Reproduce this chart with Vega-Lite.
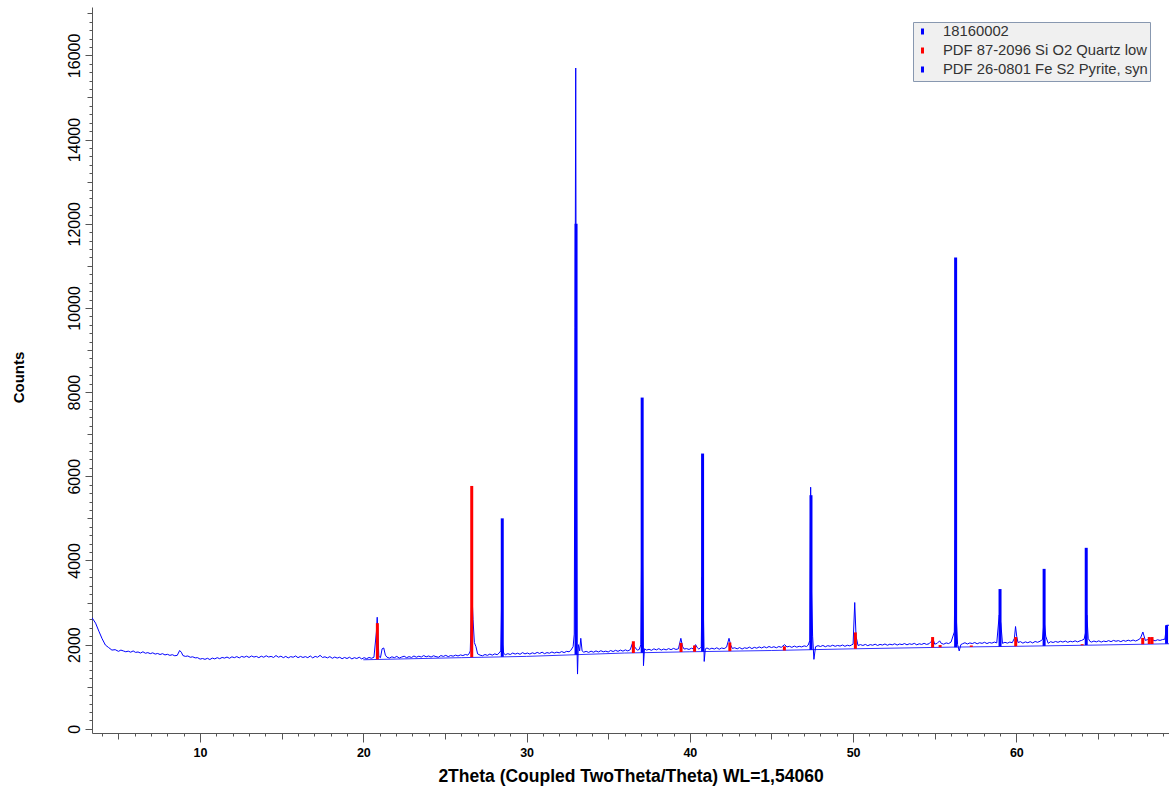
{
  "$schema": "https://vega.github.io/schema/vega-lite/v6.json",
  "width": 1077,
  "height": 726,
  "autosize": {"type": "none"},
  "padding": {"left": 92, "top": 7, "right": 0, "bottom": 59},
  "background": "white",
  "config": {"view": {"stroke": null}, "font": "Liberation Sans"},
  "datasets": {
    "scan": [
      {"t":3.38,"c":2640},{"t":3.6,"c":2510},{"t":3.8,"c":2320},{"t":4.0,"c":2140},{"t":4.2,"c":1990},{"t":4.4,"c":1930},{"t":4.6,"c":1870},{"t":4.8,"c":1880},
      {"t":5.0,"c":1840},{"t":5.15,"c":1870},{"t":5.3,"c":1850},{"t":5.45,"c":1830},{"t":5.6,"c":1845},{"t":5.75,"c":1820},{"t":5.9,"c":1850},{"t":6.05,"c":1815},{"t":6.2,"c":1825},{"t":6.35,"c":1800},{"t":6.5,"c":1830},{"t":6.65,"c":1795},{"t":6.8,"c":1810},{"t":6.95,"c":1785},{"t":7.1,"c":1805},{"t":7.25,"c":1775},{"t":7.4,"c":1790},{"t":7.55,"c":1765},{"t":7.7,"c":1785},{"t":7.85,"c":1755},{"t":8.0,"c":1770},{"t":8.15,"c":1745},{"t":8.3,"c":1760},{"t":8.45,"c":1735},{"t":8.6,"c":1745},{"t":8.75,"c":1860},{"t":8.85,"c":1820},{"t":8.95,"c":1740},{"t":9.1,"c":1720},{"t":9.25,"c":1730},{"t":9.4,"c":1700},{"t":9.55,"c":1710},{"t":9.7,"c":1685},{"t":9.85,"c":1690},
      {"t":10.0,"c":1655},{"t":10.15,"c":1670},{"t":10.3,"c":1650},{"t":10.45,"c":1675},{"t":10.6,"c":1645},{"t":10.75,"c":1680},{"t":10.9,"c":1660},{"t":11.05,"c":1690},{"t":11.2,"c":1665},{"t":11.35,"c":1695},{"t":11.5,"c":1680},{"t":11.65,"c":1705},{"t":11.8,"c":1675},{"t":11.95,"c":1710},{"t":12.1,"c":1690},{"t":12.25,"c":1715},{"t":12.4,"c":1685},{"t":12.55,"c":1720},{"t":12.7,"c":1700},{"t":12.85,"c":1725},{"t":13.0,"c":1695},{"t":13.15,"c":1730},{"t":13.3,"c":1705},{"t":13.45,"c":1720},{"t":13.6,"c":1690},{"t":13.75,"c":1725},{"t":13.9,"c":1700},{"t":14.05,"c":1735},{"t":14.2,"c":1705},{"t":14.35,"c":1720},{"t":14.5,"c":1695},{"t":14.65,"c":1740},{"t":14.8,"c":1700},{"t":14.95,"c":1725},{"t":15.1,"c":1690},{"t":15.25,"c":1720},{"t":15.4,"c":1685},{"t":15.55,"c":1715},{"t":15.7,"c":1700},{"t":15.85,"c":1730},{"t":16.0,"c":1690},{"t":16.15,"c":1720},{"t":16.3,"c":1695},{"t":16.45,"c":1715},{"t":16.6,"c":1690},{"t":16.75,"c":1730},{"t":16.9,"c":1685},{"t":17.05,"c":1720},{"t":17.2,"c":1700},{"t":17.35,"c":1745},{"t":17.5,"c":1695},{"t":17.65,"c":1710},{"t":17.8,"c":1685},{"t":17.95,"c":1715},{"t":18.1,"c":1675},{"t":18.25,"c":1705},{"t":18.4,"c":1680},{"t":18.55,"c":1700},{"t":18.7,"c":1665},{"t":18.85,"c":1695},{"t":19.0,"c":1670},{"t":19.15,"c":1700},{"t":19.3,"c":1660},{"t":19.45,"c":1690},{"t":19.6,"c":1670},{"t":19.75,"c":1700},{"t":19.9,"c":1660},{"t":20.05,"c":1690},{"t":20.2,"c":1665},{"t":20.35,"c":1695},{"t":20.5,"c":1675},{"t":20.65,"c":1700},
      {"t":20.8,"c":2300},{"t":20.85,"c":2650},{"t":20.9,"c":2200},{"t":20.95,"c":1720},{"t":21.05,"c":1690},{"t":21.15,"c":1900},{"t":21.25,"c":1920},{"t":21.35,"c":1750},{"t":21.45,"c":1700},{"t":21.6,"c":1680},{"t":21.75,"c":1710},{"t":21.9,"c":1690},{"t":22.05,"c":1720},{"t":22.2,"c":1680},{"t":22.35,"c":1705},{"t":22.5,"c":1725},{"t":22.65,"c":1690},{"t":22.8,"c":1715},{"t":22.95,"c":1695},{"t":23.1,"c":1730},{"t":23.25,"c":1700},{"t":23.4,"c":1725},{"t":23.55,"c":1705},{"t":23.7,"c":1740},{"t":23.85,"c":1710},{"t":24.0,"c":1730},{"t":24.15,"c":1705},{"t":24.3,"c":1735},{"t":24.45,"c":1715},{"t":24.6,"c":1700},{"t":24.75,"c":1740},{"t":24.9,"c":1720},{"t":25.05,"c":1745},{"t":25.2,"c":1715},{"t":25.35,"c":1740},{"t":25.5,"c":1725},{"t":25.65,"c":1750},{"t":25.8,"c":1730},{"t":25.95,"c":1755},{"t":26.1,"c":1740},{"t":26.25,"c":1765},{"t":26.4,"c":1750},{"t":26.5,"c":1800},{"t":26.55,"c":1850},{"t":26.65,"c":3250},{"t":26.72,"c":2600},{"t":26.8,"c":2050},{"t":26.9,"c":1950},{"t":27.0,"c":1780},{"t":27.15,"c":1750},{"t":27.3,"c":1735},{"t":27.45,"c":1765},{"t":27.6,"c":1745},{"t":27.75,"c":1775},{"t":27.9,"c":1750},{"t":28.05,"c":1780},{"t":28.2,"c":1760},{"t":28.32,"c":1800},{"t":28.42,"c":1850},{"t":28.47,"c":2980},{"t":28.53,"c":2000},{"t":28.6,"c":1790},{"t":28.7,"c":1760},{"t":28.85,"c":1785},{"t":29.0,"c":1765},{"t":29.15,"c":1800},{"t":29.3,"c":1775},{"t":29.45,"c":1795},{"t":29.6,"c":1770},{"t":29.75,"c":1810},{"t":29.9,"c":1780},
      {"t":30.05,"c":1800},{"t":30.2,"c":1775},{"t":30.35,"c":1805},{"t":30.5,"c":1785},{"t":30.65,"c":1815},{"t":30.8,"c":1790},{"t":30.95,"c":1820},{"t":31.1,"c":1785},{"t":31.25,"c":1810},{"t":31.4,"c":1795},{"t":31.55,"c":1825},{"t":31.7,"c":1800},{"t":31.85,"c":1820},{"t":32.0,"c":1805},{"t":32.15,"c":1835},{"t":32.3,"c":1810},{"t":32.45,"c":1840},{"t":32.6,"c":1830},{"t":32.7,"c":1860},{"t":32.85,"c":1950},{"t":32.92,"c":2250},{"t":32.97,"c":9540},{"t":33.01,"c":15700},{"t":33.05,"c":6710},{"t":33.09,"c":1900},{"t":33.12,"c":1300},{"t":33.17,"c":2000},{"t":33.25,"c":1850},{"t":33.32,"c":2150},{"t":33.4,"c":1850},{"t":33.5,"c":1820},{"t":33.65,"c":1840},{"t":33.8,"c":1815},{"t":33.95,"c":1845},{"t":34.1,"c":1820},{"t":34.25,"c":1850},{"t":34.4,"c":1825},{"t":34.55,"c":1855},{"t":34.7,"c":1830},{"t":34.85,"c":1845},{"t":35.0,"c":1825},{"t":35.15,"c":1860},{"t":35.3,"c":1835},{"t":35.45,"c":1865},{"t":35.6,"c":1840},{"t":35.75,"c":1870},{"t":35.9,"c":1845},{"t":36.05,"c":1875},{"t":36.2,"c":1850},{"t":36.35,"c":1880},{"t":36.5,"c":2050},{"t":36.6,"c":1960},{"t":36.7,"c":1900},{"t":36.8,"c":1870},{"t":36.9,"c":1885},{"t":37.0,"c":2000},{"t":37.05,"c":4330},{"t":37.1,"c":4000},{"t":37.16,"c":1500},{"t":37.22,"c":1900},{"t":37.35,"c":1870},{"t":37.5,"c":1890},{"t":37.65,"c":1865},{"t":37.8,"c":1900},{"t":37.95,"c":1875},{"t":38.1,"c":1905},{"t":38.25,"c":1870},{"t":38.4,"c":1895},{"t":38.55,"c":1875},{"t":38.7,"c":1905},{"t":38.85,"c":1880},{"t":39.0,"c":1910},{"t":39.15,"c":1885},{"t":39.3,"c":1900},{"t":39.45,"c":2150},{"t":39.55,"c":1960},{"t":39.65,"c":1895},{"t":39.8,"c":1905},{"t":39.95,"c":1885},
      {"t":40.1,"c":1915},{"t":40.2,"c":1900},{"t":40.35,"c":2000},{"t":40.45,"c":1930},{"t":40.55,"c":1895},{"t":40.65,"c":1920},{"t":40.7,"c":1950},{"t":40.75,"c":3600},{"t":40.82,"c":3000},{"t":40.88,"c":1600},{"t":40.95,"c":1900},{"t":41.05,"c":1920},{"t":41.2,"c":1890},{"t":41.35,"c":1915},{"t":41.5,"c":1895},{"t":41.65,"c":1925},{"t":41.8,"c":1890},{"t":41.95,"c":1920},{"t":42.1,"c":1905},{"t":42.25,"c":1940},{"t":42.4,"c":2150},{"t":42.5,"c":1990},{"t":42.6,"c":1910},{"t":42.75,"c":1925},{"t":42.9,"c":1900},{"t":43.05,"c":1930},{"t":43.2,"c":1895},{"t":43.35,"c":1925},{"t":43.5,"c":1910},{"t":43.65,"c":1940},{"t":43.8,"c":1905},{"t":43.95,"c":1935},{"t":44.1,"c":1915},{"t":44.25,"c":1945},{"t":44.4,"c":1920},{"t":44.55,"c":1950},{"t":44.7,"c":1925},{"t":44.85,"c":1955},{"t":45.0,"c":1930},{"t":45.15,"c":1950},{"t":45.3,"c":1925},{"t":45.45,"c":1955},{"t":45.6,"c":1935},{"t":45.8,"c":2000},{"t":45.95,"c":1945},{"t":46.1,"c":1960},{"t":46.25,"c":1935},{"t":46.4,"c":1965},{"t":46.55,"c":1940},{"t":46.7,"c":1960},{"t":46.85,"c":1945},{"t":47.0,"c":1970},{"t":47.15,"c":1955},{"t":47.25,"c":1990},{"t":47.35,"c":2100},{"t":47.4,"c":5740},{"t":47.45,"c":3290},{"t":47.52,"c":2200},{"t":47.6,"c":1650},{"t":47.7,"c":1950},{"t":47.85,"c":1975},{"t":48.0,"c":1955},{"t":48.15,"c":1980},{"t":48.3,"c":1950},{"t":48.45,"c":1975},{"t":48.6,"c":1960},{"t":48.75,"c":1985},{"t":48.9,"c":1960},{"t":49.05,"c":1980},{"t":49.2,"c":1965},{"t":49.35,"c":1990},{"t":49.5,"c":1960},{"t":49.65,"c":1985},{"t":49.8,"c":1970},{"t":49.92,"c":1995},
      {"t":50.0,"c":2010},{"t":50.1,"c":3000},{"t":50.18,"c":2200},{"t":50.3,"c":1980},{"t":50.45,"c":2000},{"t":50.6,"c":1980},{"t":50.75,"c":2005},{"t":50.9,"c":1975},{"t":51.05,"c":2000},{"t":51.2,"c":1985},{"t":51.35,"c":2010},{"t":51.5,"c":1980},{"t":51.65,"c":2005},{"t":51.8,"c":1990},{"t":51.95,"c":2015},{"t":52.1,"c":1985},{"t":52.25,"c":2010},{"t":52.4,"c":1995},{"t":52.55,"c":2020},{"t":52.7,"c":1990},{"t":52.85,"c":2015},{"t":53.0,"c":2000},{"t":53.15,"c":2025},{"t":53.3,"c":1995},{"t":53.45,"c":2020},{"t":53.6,"c":2005},{"t":53.75,"c":2030},{"t":53.9,"c":1995},{"t":54.05,"c":2020},{"t":54.2,"c":2005},{"t":54.35,"c":2030},{"t":54.5,"c":2005},{"t":54.65,"c":2020},{"t":54.8,"c":2080},{"t":54.9,"c":2130},{"t":55.0,"c":2010},{"t":55.15,"c":2030},{"t":55.3,"c":2090},{"t":55.4,"c":2030},{"t":55.55,"c":2010},{"t":55.7,"c":2040},{"t":55.85,"c":2025},{"t":56.0,"c":2060},{"t":56.2,"c":2300},{"t":56.26,"c":4480},{"t":56.32,"c":2650},{"t":56.4,"c":2000},{"t":56.5,"c":1850},{"t":56.6,"c":2000},{"t":56.7,"c":2020},{"t":56.85,"c":2045},{"t":57.0,"c":2015},{"t":57.15,"c":2040},{"t":57.3,"c":2025},{"t":57.45,"c":2050},{"t":57.6,"c":2020},{"t":57.75,"c":2045},{"t":57.9,"c":2030},{"t":58.05,"c":2055},{"t":58.2,"c":2025},{"t":58.35,"c":2050},{"t":58.5,"c":2035},{"t":58.65,"c":2060},{"t":58.8,"c":2040},{"t":58.95,"c":2700},{"t":59.05,"c":2500},{"t":59.15,"c":2030},{"t":59.3,"c":2055},{"t":59.45,"c":2035},{"t":59.6,"c":2060},{"t":59.75,"c":2045},{"t":59.88,"c":2150},{"t":59.95,"c":2430},
      {"t":60.02,"c":2200},{"t":60.1,"c":2050},{"t":60.25,"c":2070},{"t":60.4,"c":2035},{"t":60.55,"c":2065},{"t":60.7,"c":2045},{"t":60.85,"c":2070},{"t":61.0,"c":2040},{"t":61.15,"c":2075},{"t":61.3,"c":2055},{"t":61.45,"c":2080},{"t":61.6,"c":2120},{"t":61.7,"c":2580},{"t":61.8,"c":2200},{"t":61.95,"c":2030},{"t":62.1,"c":2070},{"t":62.25,"c":2050},{"t":62.4,"c":2075},{"t":62.55,"c":2055},{"t":62.7,"c":2080},{"t":62.85,"c":2060},{"t":63.0,"c":2085},{"t":63.15,"c":2055},{"t":63.3,"c":2080},{"t":63.45,"c":2065},{"t":63.6,"c":2090},{"t":63.75,"c":2065},{"t":63.9,"c":2090},{"t":64.0,"c":2100},{"t":64.15,"c":2130},{"t":64.25,"c":2300},{"t":64.32,"c":2700},{"t":64.4,"c":2150},{"t":64.5,"c":2080},{"t":64.6,"c":2060},{"t":64.75,"c":2085},{"t":64.9,"c":2065},{"t":65.05,"c":2090},{"t":65.2,"c":2060},{"t":65.35,"c":2085},{"t":65.5,"c":2070},{"t":65.65,"c":2095},{"t":65.8,"c":2070},{"t":65.95,"c":2100},{"t":66.1,"c":2080},{"t":66.25,"c":2095},{"t":66.4,"c":2070},{"t":66.55,"c":2100},{"t":66.7,"c":2080},{"t":66.85,"c":2105},{"t":67.0,"c":2085},{"t":67.15,"c":2110},{"t":67.3,"c":2085},{"t":67.45,"c":2110},{"t":67.6,"c":2150},{"t":67.75,"c":2300},{"t":67.9,"c":2100},{"t":68.05,"c":2120},{"t":68.2,"c":2140},{"t":68.35,"c":2110},{"t":68.5,"c":2090},{"t":68.65,"c":2115},{"t":68.8,"c":2100},{"t":68.95,"c":2120},{"t":69.1,"c":2130},{"t":69.2,"c":2460},{"t":69.35,"c":2460}
    ],
    "bg": [
      {"t":20,"c":1640},{"t":26,"c":1690},{"t":30,"c":1720},{"t":33,"c":1760},{"t":36,"c":1800},{"t":40,"c":1830},{"t":45,"c":1860},{"t":50,"c":1900},{"t":56,"c":1940},{"t":60,"c":1960},{"t":65,"c":1990},{"t":69.35,"c":2020}
    ],
    "sticks": [
      {"t":28.51,"c":5000,"base":1710,"phase":"PDF 26-0801 Fe S2 Pyrite, syn"},
      {"t":33.03,"c":12000,"base":1760,"phase":"PDF 26-0801 Fe S2 Pyrite, syn"},
      {"t":37.08,"c":7870,"base":1805,"phase":"PDF 26-0801 Fe S2 Pyrite, syn"},
      {"t":40.78,"c":6540,"base":1835,"phase":"PDF 26-0801 Fe S2 Pyrite, syn"},
      {"t":47.42,"c":5550,"base":1875,"phase":"PDF 26-0801 Fe S2 Pyrite, syn"},
      {"t":56.28,"c":11200,"base":1940,"phase":"PDF 26-0801 Fe S2 Pyrite, syn"},
      {"t":59.0,"c":3320,"base":1955,"phase":"PDF 26-0801 Fe S2 Pyrite, syn"},
      {"t":61.7,"c":3800,"base":1970,"phase":"PDF 26-0801 Fe S2 Pyrite, syn"},
      {"t":64.28,"c":4300,"base":1990,"phase":"PDF 26-0801 Fe S2 Pyrite, syn"},
      {"t":69.2,"c":2460,"base":2020,"phase":"PDF 26-0801 Fe S2 Pyrite, syn"},
      {"t":20.86,"c":2510,"base":1650,"phase":"PDF 87-2096 Si O2 Quartz low"},
      {"t":26.64,"c":5770,"base":1700,"phase":"PDF 87-2096 Si O2 Quartz low"},
      {"t":36.54,"c":2080,"base":1800,"phase":"PDF 87-2096 Si O2 Quartz low"},
      {"t":39.46,"c":2040,"base":1825,"phase":"PDF 87-2096 Si O2 Quartz low"},
      {"t":40.29,"c":1980,"base":1830,"phase":"PDF 87-2096 Si O2 Quartz low"},
      {"t":42.45,"c":2050,"base":1845,"phase":"PDF 87-2096 Si O2 Quartz low"},
      {"t":45.79,"c":1960,"base":1860,"phase":"PDF 87-2096 Si O2 Quartz low"},
      {"t":50.14,"c":2290,"base":1900,"phase":"PDF 87-2096 Si O2 Quartz low"},
      {"t":54.87,"c":2180,"base":1930,"phase":"PDF 87-2096 Si O2 Quartz low"},
      {"t":55.33,"c":1990,"base":1935,"phase":"PDF 87-2096 Si O2 Quartz low"},
      {"t":57.24,"c":1980,"base":1945,"phase":"PDF 87-2096 Si O2 Quartz low"},
      {"t":59.96,"c":2180,"base":1960,"phase":"PDF 87-2096 Si O2 Quartz low"},
      {"t":64.03,"c":2010,"base":1985,"phase":"PDF 87-2096 Si O2 Quartz low"},
      {"t":67.74,"c":2160,"base":2010,"phase":"PDF 87-2096 Si O2 Quartz low"},
      {"t":68.14,"c":2180,"base":2015,"phase":"PDF 87-2096 Si O2 Quartz low"},
      {"t":68.31,"c":2180,"base":2015,"phase":"PDF 87-2096 Si O2 Quartz low"}
    ]
  },
  "encoding": {
    "x": {
      "field": "t", "type": "quantitative",
      "scale": {"domain": [3.38, 69.35], "nice": false, "zero": false},
      "axis": {
        "title": "2Theta (Coupled TwoTheta/Theta) WL=1,54060",
        "values": [4,5,6,7,8,9,10,11,12,13,14,15,16,17,18,19,20,21,22,23,24,25,26,27,28,29,30,31,32,33,34,35,36,37,38,39,40,41,42,43,44,45,46,47,48,49,50,51,52,53,54,55,56,57,58,59,60,61,62,63,64,65,66,67,68,69],
        "labelExpr": "datum.value % 10 === 0 ? datum.label : ''",
        "labelOverlap": false,
        "labelFlush": false,
        "labelBound": false,
        "grid": false,
        "tickSize": {"condition": [{"test": "datum.value % 10 === 0", "value": 9}, {"test": "datum.value % 5 === 0", "value": 6}], "value": 3},
        "tickColor": "#555555",
        "domainColor": "#555555",
        "labelFont": "Liberation Sans",
        "labelFontSize": 12.5,
        "labelFontWeight": "bold",
        "labelColor": "#000000",
        "labelPadding": 4,
        "titleFont": "Liberation Sans",
        "titleFontSize": 17.5,
        "titleFontWeight": "bold",
        "titleColor": "#000000",
        "titleY": 43,
        "titleBaseline": "middle"
      }
    },
    "y": {
      "field": "c", "type": "quantitative",
      "scale": {"domain": [-100, 17150], "nice": false, "zero": false},
      "axis": {
        "title": "Counts",
        "values": [0,200,400,600,800,1000,1200,1400,1600,1800,2000,2200,2400,2600,2800,3000,3200,3400,3600,3800,4000,4200,4400,4600,4800,5000,5200,5400,5600,5800,6000,6200,6400,6600,6800,7000,7200,7400,7600,7800,8000,8200,8400,8600,8800,9000,9200,9400,9600,9800,10000,10200,10400,10600,10800,11000,11200,11400,11600,11800,12000,12200,12400,12600,12800,13000,13200,13400,13600,13800,14000,14200,14400,14600,14800,15000,15200,15400,15600,15800,16000,16200,16400,16600,16800,17000],
        "format": "d",
        "labelExpr": "datum.value % 2000 === 0 ? datum.label : ''",
        "labelOverlap": false,
        "labelFlush": false,
        "labelBound": false,
        "grid": false,
        "tickSize": {"condition": [{"test": "datum.value % 2000 === 0", "value": 7}, {"test": "datum.value % 1000 === 0", "value": 5}], "value": 3},
        "tickColor": "#555555",
        "domainColor": "#555555",
        "labelAngle": -90,
        "labelAlign": "center",
        "labelBaseline": "bottom",
        "labelFont": "Liberation Sans",
        "labelFontSize": 16,
        "labelColor": "#000000",
        "labelPadding": 3,
        "titleFont": "Liberation Sans",
        "titleFontSize": 15,
        "titleFontWeight": "bold",
        "titleColor": "#000000",
        "titleAngle": -90,
        "titleX": -74,
        "titleY": 370,
        "titleBaseline": "middle",
        "titleAlign": "center"
      }
    }
  },
  "layer": [
    {
      "data": {"name": "scan"},
      "mark": {"type": "line", "strokeWidth": 1, "clip": true},
      "encoding": {
        "color": {
          "datum": "18160002", "type": "nominal", "title": null,
          "scale": {"domain": ["18160002", "PDF 87-2096 Si O2 Quartz low", "PDF 26-0801 Fe S2 Pyrite, syn"], "range": ["#0000ff", "#ff0000", "#0000ff"]},
          "legend": {
            "title": null,
            "orient": "none",
            "legendX": 821,
            "legendY": 15,
            "fillColor": "#f0f0f0",
            "strokeColor": "#8898b0",
            "padding": 2,
            "symbolType": "M0,-0.5L0,0.5",
            "symbolSize": 144,
            "symbolStrokeWidth": 3,
            "labelFont": "Liberation Sans",
            "labelFontSize": 14.8,
            "labelColor": "#333333",
            "labelOffset": 13,
            "rowPadding": 0,
            "labelLimit": 300
          }
        }
      }
    },
    {
      "data": {"name": "bg"},
      "mark": {"type": "line", "strokeWidth": 1, "color": "#0000ff", "clip": true, "opacity": 0.8}
    },
    {
      "data": {"name": "sticks"},
      "mark": {"type": "rule", "strokeWidth": 3, "clip": true},
      "encoding": {
        "y2": {"field": "base"},
        "color": {"field": "phase", "type": "nominal", "title": null}
      }
    }
  ]
}
